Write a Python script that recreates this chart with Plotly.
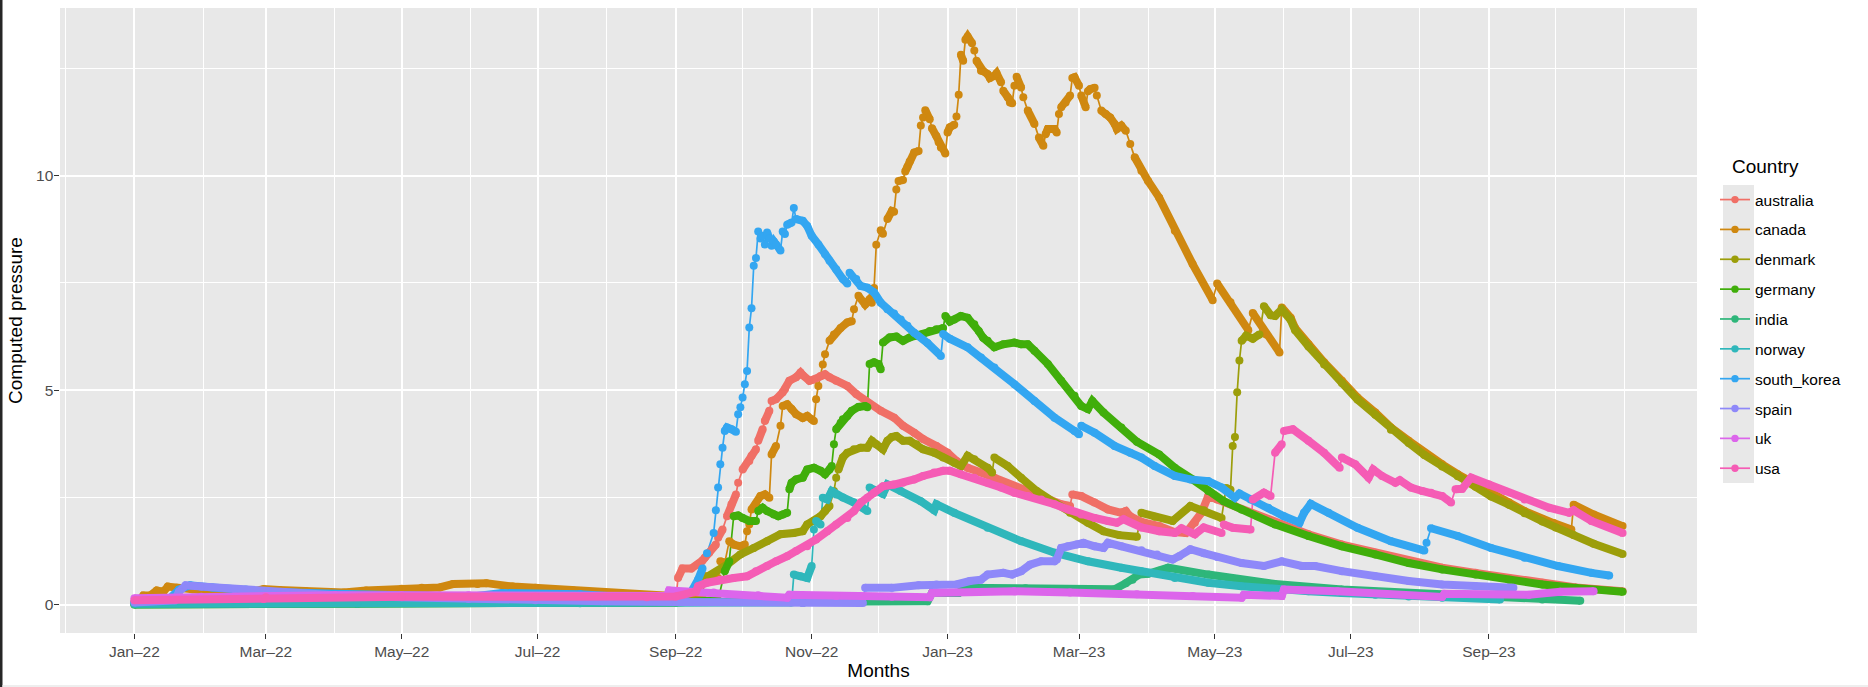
import pandas as pd
import plotly.graph_objects as go

START = pd.Timestamp("2022-01-01")

countries = ["australia", "canada", "denmark", "germany", "india",
             "norway", "south_korea", "spain", "uk", "usa"]
colors = ["#F06F66", "#CF8810", "#9C9E0A", "#40AE0B", "#2EB67A",
          "#2FB7BB", "#33A6F1", "#8E88F9", "#DC65EB", "#F55CB5"]

# (day offset from START, computed pressure)
australia = [(0,0.05),(20,0.06),(40,0.07),(58,0.08),(59,0.13),(90,0.12),(120,0.11),(150,0.12),(180,0.11),(210,0.10),(235,0.08),(243,0.10),(244,0.62),(246,0.84),(250,0.84),(253,0.93),(255,1.03),(256,1.09),(258,1.21),(261,1.40),(262,1.56),(264,1.75),(266,2.06),(268,2.34),(270,2.57),(271,2.84),(273,3.15),(276,3.35),(277,3.47),(279,3.62),(280,3.82),(282,4.09),(283,4.28),(285,4.52),(286,4.75),(288,4.79),(291,4.95),(292,5.02),(294,5.22),(297,5.30),(299,5.41),(300,5.35),(303,5.22),(305,5.25),(308,5.33),(310,5.37),(312,5.30),(315,5.22),(320,5.10),(324,4.91),(329,4.71),(335,4.52),(341,4.36),(345,4.17),(350,4.01),(354,3.86),(360,3.70),(365,3.54),(369,3.35),(374,3.19),(380,3.08),(386,2.96),(392,2.80),(398,2.69),(404,2.57),(410,2.45),(416,2.34),(420,2.30),(421,2.57),(425,2.53),(431,2.38),(437,2.22),(443,2.14),(445,2.18),(447,2.06),(452,1.93),(460,1.83),(467,1.69),(472,1.67),(476,1.91),(479,2.14),(482,2.53),(486,2.45),(494,2.30),(504,2.06),(512,1.91),(527,1.64),(542,1.40),(557,1.21),(572,1.01),(587,0.86),(602,0.74),(617,0.62),(632,0.51),(647,0.40),(668,0.31)]

canada = [(0,0.05),(3,0.13),(4,0.21),(7,0.21),(10,0.33),(13,0.30),(15,0.42),(19,0.39),(26,0.36),(36,0.31),(46,0.26),(50,0.25),(53,0.30),(58,0.36),(65,0.34),(77,0.31),(94,0.28),(104,0.33),(120,0.37),(129,0.39),(137,0.40),(143,0.48),(154,0.48),(158,0.50),(170,0.42),(180,0.39),(197,0.33),(209,0.29),(225,0.22),(240,0.17),(255,0.16),(256,0.66),(262,0.62),(263,1.01),(265,0.98),(267,1.48),(269,1.40),(272,1.36),(274,1.40),(275,1.71),(276,1.87),(277,2.22),(279,2.34),(281,2.53),(283,2.57),(285,2.49),(286,3.50),(288,3.70),(290,4.17),(291,4.63),(293,4.67),(295,4.56),(297,4.44),(300,4.35),(302,4.40),(304,4.32),(305,4.28),(306,4.79),(307,5.10),(309,5.60),(310,5.84),(312,6.15),(314,6.30),(317,6.45),(320,6.58),(322,6.61),(323,6.89),(325,7.20),(328,7.00),(330,7.12),(331,7.04),(332,7.38),(333,8.39),(335,8.73),(336,8.65),(338,8.99),(340,9.18),(341,9.16),(342,9.68),(343,9.88),(345,9.90),(346,10.10),(347,10.21),(348,10.33),(350,10.54),(352,10.58),(353,11.17),(354,11.36),(355,11.53),(357,11.32),(358,11.11),(360,10.93),(361,10.78),(362,10.66),(364,10.52),(365,11.01),(366,11.13),(368,11.19),(369,11.38),(370,11.89),(371,12.82),(372,12.68),(373,13.17),(374,13.25),(376,13.09),(377,12.92),(378,12.68),(380,12.45),(381,12.44),(383,12.37),(384,12.28),(386,12.33),(387,12.39),(389,12.18),(390,11.98),(392,11.83),(393,11.71),(394,11.69),(395,12.10),(396,12.31),(398,12.06),(399,11.83),(401,11.52),(404,11.21),(406,10.89),(408,10.70),(409,10.97),(410,11.09),(413,11.09),(414,11.01),(415,11.44),(416,11.60),(418,11.71),(420,11.87),(421,12.28),(422,12.30),(424,12.10),(425,11.87),(427,11.60),(428,11.97),(429,12.02),(431,12.05),(432,11.87),(434,11.52),(436,11.44),(438,11.36),(440,11.21),(441,11.09),(443,11.17),(445,11.05),(447,10.74),(449,10.43),(452,10.12),(455,9.88),(460,9.49),(467,8.72),(475,7.94),(484,7.10),(486,7.49),(492,7.05),(500,6.40),(502,6.80),(508,6.30),(514,5.88),(515,6.93),(519,6.69),(521,6.45),(527,6.07),(534,5.65),(542,5.22),(549,4.83),(557,4.48),(564,4.13),(572,3.82),(579,3.54),(587,3.27),(594,3.04),(602,2.80),(609,2.57),(617,2.38),(624,2.18),(632,1.99),(637,1.90),(645,1.75),(646,2.33),(655,2.10),(668,1.83)]

denmark = [(0,0.02),(100,0.03),(200,0.04),(243,0.05),(250,0.30),(255,0.58),(266,0.93),(272,1.17),(278,1.32),(284,1.48),(290,1.64),(296,1.67),(300,1.71),(302,1.87),(305,1.95),(308,2.06),(310,2.18),(312,2.30),(314,2.65),(315,2.96),(316,3.15),(318,3.43),(320,3.54),(323,3.62),(326,3.66),(329,3.66),(331,3.82),(333,3.74),(336,3.62),(338,3.82),(340,3.91),(342,3.93),(345,3.82),(348,3.82),(351,3.74),(354,3.62),(359,3.54),(363,3.43),(368,3.31),(371,3.23),(374,3.47),(377,3.39),(383,3.19),(385,3.08),(386,3.43),(392,3.23),(398,2.96),(405,2.65),(413,2.38),(420,2.14),(428,1.91),(435,1.71),(442,1.62),(450,1.58),(452,2.14),(458,2.05),(466,1.95),(474,2.30),(480,2.20),(488,2.02),(490,2.72),(492,2.68),(493,3.70),(494,3.91),(495,4.95),(496,5.69),(497,6.15),(499,6.27),(502,6.20),(505,6.30),(507,6.96),(510,6.75),(512,6.73),(515,6.88),(519,6.64),(521,6.40),(527,6.02),(534,5.60),(542,5.17),(549,4.78),(557,4.43),(564,4.08),(572,3.77),(579,3.49),(587,3.22),(594,2.99),(602,2.75),(609,2.52),(617,2.33),(624,2.13),(632,1.94),(638,1.80),(646,1.62),(655,1.42),(668,1.18)]

germany = [(0,0.00),(100,0.02),(200,0.04),(243,0.05),(262,0.10),(265,0.78),(267,1.01),(269,2.06),(271,2.08),(273,2.02),(276,1.95),(279,1.95),(280,2.18),(282,2.26),(284,2.18),(287,2.10),(289,2.06),(291,2.10),(293,2.14),(294,2.69),(295,2.84),(297,2.92),(300,2.96),(302,3.15),(305,3.19),(308,3.12),(310,3.04),(312,3.15),(313,3.23),(314,3.74),(315,4.09),(317,4.24),(318,4.32),(320,4.40),(322,4.52),(325,4.61),(328,4.63),(329,4.60),(330,5.61),(332,5.65),(334,5.61),(335,5.49),(336,6.11),(339,6.23),(342,6.25),(345,6.15),(348,6.23),(351,6.27),(354,6.31),(357,6.38),(360,6.42),(363,6.45),(364,6.73),(366,6.60),(368,6.65),(371,6.73),(374,6.69),(377,6.54),(379,6.38),(381,6.22),(383,6.15),(386,6.00),(390,6.07),(395,6.11),(398,6.07),(401,6.07),(404,5.92),(410,5.61),(416,5.22),(422,4.87),(425,4.63),(428,4.56),(430,4.75),(435,4.48),(443,4.13),(450,3.80),(460,3.50),(467,3.19),(475,2.92),(482,2.65),(489,2.41),(497,2.22),(512,1.87),(527,1.60),(542,1.36),(557,1.17),(572,0.97),(587,0.82),(602,0.70),(617,0.58),(632,0.47),(647,0.39),(668,0.30)]

india = [(0,0.00),(100,0.02),(200,0.03),(300,0.04),(356,0.08),(358,0.27),(370,0.27),(372,0.39),(400,0.38),(440,0.36),(445,0.50),(448,0.58),(451,0.70),(455,0.72),(460,0.79),(464,0.86),(482,0.70),(512,0.48),(542,0.35),(572,0.27),(602,0.19),(632,0.12),(649,0.09)]

norway = [(0,0.02),(100,0.03),(200,0.04),(295,0.05),(296,0.70),(299,0.66),(302,0.62),(304,0.90),(305,1.75),(306,1.95),(308,1.87),(309,2.49),(311,2.45),(313,2.65),(315,2.57),(318,2.50),(323,2.38),(327,2.26),(329,2.18),(330,2.73),(333,2.65),(336,2.58),(338,2.80),(344,2.65),(353,2.41),(359,2.20),(360,2.34),(368,2.14),(383,1.79),(398,1.48),(413,1.21),(428,1.01),(443,0.86),(452,0.78),(467,0.62),(482,0.51),(497,0.43),(512,0.35),(527,0.31),(542,0.27),(557,0.23),(572,0.19),(587,0.16),(613,0.12)]

south_korea = [(0,0.05),(15,0.10),(20,0.35),(25,0.45),(35,0.40),(50,0.35),(60,0.30),(90,0.25),(120,0.20),(150,0.18),(165,0.27),(200,0.24),(243,0.10),(250,0.30),(253,0.58),(255,0.84),(257,1.20),(260,1.67),(261,2.20),(262,2.73),(263,3.27),(264,3.66),(265,4.05),(266,4.13),(268,4.09),(270,4.03),(271,4.44),(272,4.60),(273,4.83),(274,5.14),(275,5.45),(276,6.46),(277,6.91),(278,7.90),(279,8.08),(280,8.70),(281,8.54),(282,8.60),(283,8.40),(284,8.68),(285,8.54),(286,8.37),(287,8.47),(288,8.40),(290,8.26),(291,8.70),(292,8.64),(293,8.86),(295,8.91),(296,9.25),(297,8.99),(300,8.95),(302,8.83),(304,8.60),(307,8.40),(310,8.17),(312,8.02),(315,7.82),(318,7.59),(320,7.49),(321,7.74),(324,7.59),(326,7.43),(329,7.39),(332,7.28),(335,7.04),(338,6.89),(341,6.79),(344,6.65),(347,6.50),(350,6.34),(356,6.10),(362,5.80),(363,6.31),(366,6.20),(374,6.00),(380,5.76),(386,5.53),(395,5.14),(404,4.75),(413,4.36),(422,4.05),(424,3.97),(425,4.17),(431,4.01),(440,3.70),(447,3.54),(452,3.43),(458,3.23),(467,3.00),(474,2.92),(482,2.88),(488,2.73),(494,2.49),(496,2.59),(501,2.45),(509,2.26),(516,2.06),(523,1.91),(525,2.14),(528,2.35),(536,2.14),(549,1.79),(564,1.48),(579,1.26),(580,1.44),(582,1.78),(594,1.60),(609,1.32),(624,1.09),(639,0.90),(654,0.74),(662,0.68)]

spain = [(0,0.05),(18,0.10),(20,0.30),(23,0.45),(30,0.42),(45,0.36),(60,0.30),(90,0.22),(120,0.17),(150,0.13),(180,0.10),(210,0.08),(243,0.06),(300,0.04),(327,0.04),(328,0.39),(340,0.39),(352,0.45),(360,0.47),(369,0.47),(375,0.55),(380,0.58),(383,0.70),(390,0.74),(394,0.70),(398,0.78),(402,0.93),(407,1.01),(413,1.01),(414,1.05),(416,1.32),(419,1.36),(423,1.40),(426,1.44),(431,1.36),(435,1.32),(437,1.44),(443,1.36),(452,1.27),(459,1.17),(466,1.05),(469,1.13),(474,1.29),(480,1.20),(486,1.11),(497,0.97),(507,0.90),(515,1.01),(524,0.90),(530,0.90),(542,0.78),(557,0.66),(572,0.55),(587,0.47),(602,0.43),(619,0.39)]

uk = [(0,0.15),(30,0.18),(59,0.20),(90,0.22),(120,0.22),(150,0.22),(180,0.20),(210,0.20),(239,0.20),(240,0.33),(260,0.28),(280,0.22),(293,0.16),(294,0.23),(315,0.20),(340,0.18),(357,0.17),(358,0.27),(395,0.31),(420,0.28),(450,0.24),(475,0.20),(497,0.16),(498,0.23),(515,0.20),(516,0.35),(540,0.31),(587,0.18),(588,0.25),(626,0.23),(640,0.30),(655,0.31)]

usa = [(0,0.10),(58,0.13),(59,0.17),(120,0.18),(180,0.18),(230,0.17),(243,0.19),(252,0.30),(253,0.43),(257,0.51),(263,0.58),(269,0.62),(275,0.66),(279,0.78),(284,0.90),(288,1.01),(293,1.13),(297,1.25),(302,1.36),(306,1.52),(311,1.71),(315,1.87),(320,2.02),(323,2.18),(326,2.38),(329,2.49),(332,2.61),(336,2.76),(341,2.80),(345,2.84),(350,2.92),(354,3.00),(359,3.08),(363,3.12),(366,3.12),(371,3.04),(377,2.96),(383,2.84),(389,2.73),(395,2.61),(401,2.53),(407,2.45),(413,2.34),(419,2.22),(425,2.10),(431,2.02),(437,1.95),(441,1.91),(444,1.99),(452,1.80),(460,1.71),(467,1.67),(470,1.78),(476,1.64),(480,1.80),(488,1.67),(489,1.87),(493,1.79),(501,1.75),(502,2.45),(507,2.61),(510,2.53),(512,3.54),(515,3.74),(516,4.05),(520,4.09),(527,3.82),(534,3.54),(541,3.19),(542,3.43),(548,3.27),(554,2.96),(556,3.15),(560,3.00),(566,2.84),(568,2.90),(573,2.73),(578,2.65),(582,2.61),(587,2.53),(591,2.38),(593,2.69),(596,2.70),(600,2.96),(608,2.80),(615,2.65),(624,2.45),(635,2.26),(644,2.14),(646,2.20),(654,1.95),(668,1.67)]

x_tick_labels = ["Jan–22", "Mar–22", "May–22", "Jul–22", "Sep–22", "Nov–22",
                 "Jan–23", "Mar–23", "May–23", "Jul–23", "Sep–23"]
y_tick_values = [0, 5, 10]

series = dict(zip(countries, [australia, canada, denmark, germany, india,
                              norway, south_korea, spain, uk, usa]))

# ---------------- layout geometry (pixels) ----------------
W, H = 1868, 687
M_L, M_R, M_T, M_B = 60, 171, 8, 54
plot_w = W - M_L - M_R
plot_h = H - M_T - M_B
PANEL = "#E8E8E8"

def px_x(px):   # figure pixel -> paper x
    return (px - M_L) / plot_w

def px_y(py):   # figure pixel (from top) -> paper y
    return (H - M_B - py) / plot_h

first_day = min(d for s in series.values() for d, _ in s)
last_day = max(d for s in series.values() for d, _ in s)
ymax_data = max(v for s in series.values() for _, v in s)
ymin_data = min(v for s in series.values() for _, v in s)
xpad = 0.05 * (last_day - first_day)
ypad = 0.05 * (ymax_data - ymin_data)
x0 = START + pd.Timedelta(days=first_day - xpad)
x1 = START + pd.Timedelta(days=last_day + xpad)
y0, y1 = ymin_data - ypad, ymax_data + ypad
px_per_unit = plot_h / (y1 - y0)

def to_date(d):
    return START + pd.Timedelta(days=d)

MARK = 8
FONT = "Liberation Sans, Arial, sans-serif"
fig = go.Figure()

# geom_line layer (all countries)
for c, col in zip(countries, colors):
    s = series[c]
    fig.add_trace(go.Scatter(x=[to_date(d) for d, _ in s], y=[v for _, v in s],
                             mode="lines", line=dict(color=col, width=1.7),
                             showlegend=False, hoverinfo="skip"))

# geom_point layer: overlapping daily points rendered as a band
for c, col in zip(countries, colors):
    s = series[c]
    bx, by = [], []
    run = False
    for (da, va), (db, vb) in zip(s[:-1], s[1:]):
        step = abs(vb - va) / (db - da) * px_per_unit
        if step <= 6.5:
            if not run:
                bx.append(to_date(da)); by.append(va)
            bx.append(to_date(db)); by.append(vb)
            run = True
        else:
            if run:
                bx.append(None); by.append(None)
            run = False
    fig.add_trace(go.Scatter(x=bx, y=by, mode="lines",
                             line=dict(color=col, width=MARK),
                             showlegend=False, hoverinfo="skip"))
    fig.add_trace(go.Scatter(x=[to_date(d) for d, _ in s], y=[v for _, v in s],
                             mode="markers", marker=dict(color=col, size=MARK),
                             showlegend=False, name=c))

# legend entries
for c, col in zip(countries, colors):
    fig.add_trace(go.Scatter(x=[None], y=[None], mode="lines+markers", name=c,
                             legendgroup=c,
                             line=dict(color=col, width=1.7),
                             marker=dict(color=col, size=7.4)))

major_ticks = [pd.Timestamp(f"20{lab[-2:]}-{m:02d}-01") for lab, m in
               zip(x_tick_labels, [1, 3, 5, 7, 9, 11, 1, 3, 5, 7, 9])]
months = pd.date_range("2021-12-01", "2023-11-01", freq="MS")
minor_ticks = [m for m in months if m not in major_ticks]

TICKFONT = dict(family=FONT, size=15.5, color="#4D4D4D")
TITLEFONT = dict(family=FONT, size=19, color="#000000")

shapes = [
    # legend key background column
    dict(type="rect", xref="paper", yref="paper", layer="below",
         x0=px_x(1723), x1=px_x(1754), y0=px_y(483), y1=px_y(185),
         fillcolor=PANEL, line=dict(width=0)),
    # frame of the screenshot
    dict(type="rect", xref="paper", yref="paper", layer="above",
         x0=px_x(0), x1=px_x(2.5), y0=px_y(H), y1=px_y(0),
         fillcolor="#262626", line=dict(width=0)),
    dict(type="rect", xref="paper", yref="paper", layer="above",
         x0=px_x(2.5), x1=px_x(W), y0=px_y(H), y1=px_y(685),
         fillcolor="#EEEEEE", line=dict(width=0)),
]

fig.update_layout(
    width=W, height=H,
    margin=dict(l=M_L, r=M_R, t=M_T, b=M_B, pad=0),
    paper_bgcolor="#FFFFFF", plot_bgcolor=PANEL,
    showlegend=True,
    legend=dict(font=dict(family=FONT, size=15.5, color="#000000"),
                x=px_x(1715), y=px_y(183),
                xanchor="left", yanchor="top",
                bgcolor="rgba(0,0,0,0)", itemwidth=30, tracegroupgap=6.7,
                traceorder="grouped"),
    annotations=[dict(text="Country", xref="paper", yref="paper",
                      x=px_x(1730), y=px_y(167), xanchor="left", yanchor="middle",
                      showarrow=False, font=TITLEFONT)],
    shapes=shapes,
    xaxis=dict(type="date", range=[x0, x1],
               tickvals=major_ticks, ticktext=x_tick_labels,
               ticks="outside", ticklen=4.6, tickwidth=1.1, tickcolor="#333333",
               tickfont=TICKFONT, showgrid=True, gridcolor="#FFFFFF", gridwidth=2,
               zeroline=False, showline=False,
               minor=dict(tickvals=minor_ticks, showgrid=True, gridcolor="#FFFFFF",
                          gridwidth=1, ticks=""),
               title=dict(text="Months", font=TITLEFONT, standoff=4)),
    yaxis=dict(range=[y0, y1], tickvals=y_tick_values,
               ticks="outside", ticklen=4.6, tickwidth=1.1, tickcolor="#333333",
               tickfont=TICKFONT, showgrid=True, gridcolor="#FFFFFF", gridwidth=2,
               zeroline=False, showline=False, ticklabelstandoff=-2,
               minor=dict(tickvals=[2.5, 7.5, 12.5], showgrid=True, gridcolor="#FFFFFF",
                          gridwidth=1, ticks=""),
               title=dict(text="Computed pressure", font=TITLEFONT, standoff=8)),
)

fig.write_html("out.html", config={"displayModeBar": False},
               post_script="document.body.style.margin='0px';")
